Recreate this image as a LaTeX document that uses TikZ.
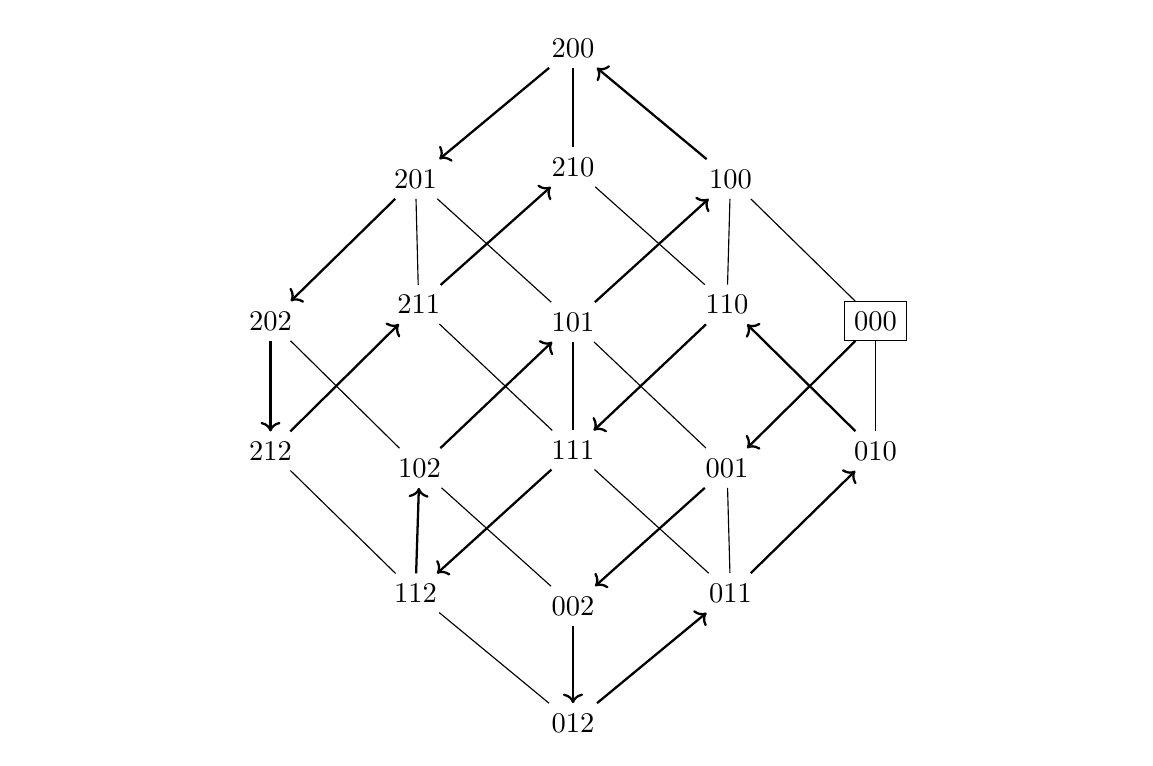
\documentclass[tikz,border=0pt]{standalone}
\usepackage{tikz}
\usetikzlibrary{arrows.meta}

\begin{document}
\begin{tikzpicture}[x=0.351pt, y=-0.351pt,
  vert/.style={inner sep=3.33pt},
  start/.style={vert, draw},
  edge/.style={thin},
  move/.style={->, thick}]
\useasboundingbox (0,0) rectangle (1153,766);
% top layer
\node[vert] (n200) at (573,48) {200};
\node[vert] (n201) at (415.5,179) {201};
\node[vert] (n210) at (573,167) {210};
\node[vert] (n100) at (730.5,179) {100};
% middle layers
\node[vert] (n202) at (270.5,321) {202};
\node[vert] (n211) at (418.7,304.5) {211};
\node[vert] (n101) at (573,322) {101};
\node[vert] (n110) at (727,304.5) {110};
\node[start] (n000) at (875.5,321) {000};
\node[vert] (n212) at (270.5,451) {212};
\node[vert] (n102) at (419.5,468) {102};
\node[vert] (n111) at (573,450) {111};
\node[vert] (n001) at (727,468) {001};
\node[vert] (n010) at (875.5,451) {010};
% bottom layer
\node[vert] (n112) at (415.5,593) {112};
\node[vert] (n002) at (573,606) {002};
\node[vert] (n011) at (730.5,593) {011};
\node[vert] (n012) at (573,723) {012};
\foreach \a/\b in {n200/n210,n201/n211,n201/n101,n210/n110,n100/n110,n100/n000,
  n202/n102,n211/n111,n101/n111,n101/n001,n000/n010,n212/n112,n102/n002,
  n111/n011,n001/n011,n112/n012}\draw[edge](\a)--(\b);
\foreach \a/\b in {n200/n201,n100/n200,n201/n202,n211/n210,n101/n100,n202/n212,
  n212/n211,n102/n101,n110/n111,n010/n110,n000/n001,n112/n102,n111/n112,
  n001/n002,n011/n010,n002/n012,n012/n011}\draw[move](\a)--(\b);
\end{tikzpicture}
\end{document}
